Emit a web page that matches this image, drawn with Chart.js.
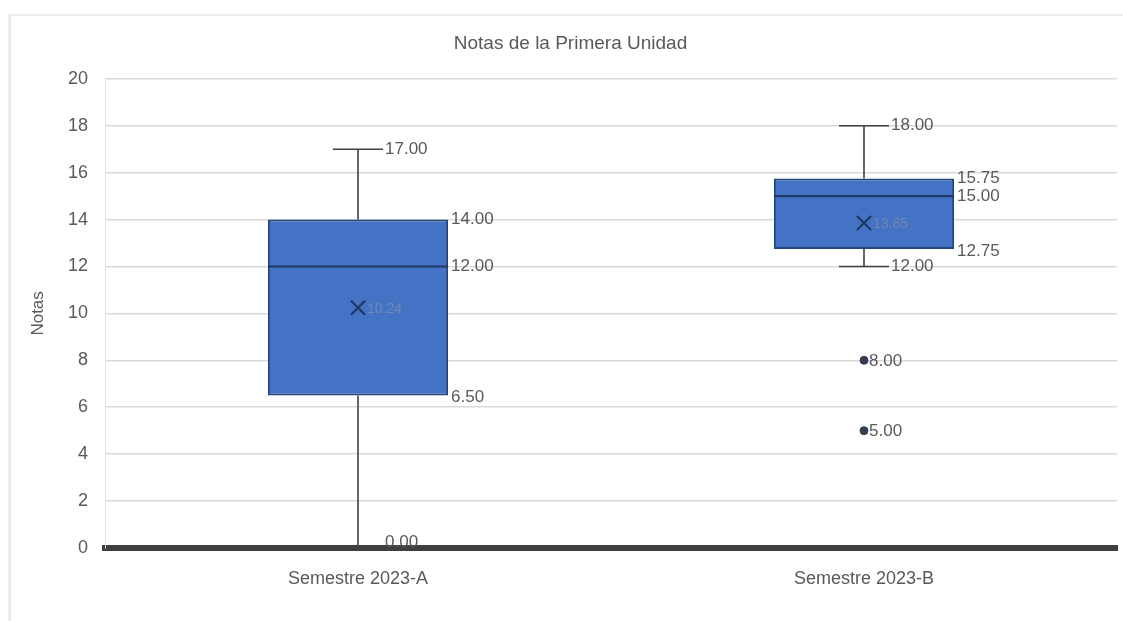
<!DOCTYPE html>
<html lang="es">
<head>
<meta charset="utf-8">
<title>Notas de la Primera Unidad</title>
<script src="https://cdn.jsdelivr.net/npm/chart.js@4.4.1/dist/chart.umd.min.js"></script>
<style>
    html, body { margin: 0; padding: 0; background: #fff; }
    #frame {
        position: absolute; left: 8px; top: 14px; width: 1115px; height: 607px;
        border-left: 3px solid #ececec; border-top: 2px solid #ececec;
    }
    #wrap { position: absolute; left: 0; top: 0; width: 1123px; height: 621px; }
</style>
</head>
<body>
<div id="frame"></div>
<div id="wrap"><canvas id="boxChart" width="1123" height="621"></canvas></div>
<script>
// Resumen de cinco números por semestre
const categories = ['Semestre 2023-A', 'Semestre 2023-B'];
const minimos  = [0, 12];
const q1       = [6.5, 12.75];
const medianas = [12, 15];
const q3       = [14, 15.75];
const maximos  = [17, 18];
const medias   = [10.24, 13.85];
const atipicos = [[], [8, 5]];
const yTicks   = [0, 2, 4, 6, 8, 10, 12, 14, 16, 18, 20];

const FONT = "'Liberation Sans', Arial, sans-serif";
const TEXT = '#595959';

// puntos atípicos como dataset de dispersión sobre el eje de categorías
const outlierPoints = [];
atipicos.forEach((vals, i) => {
    vals.forEach(v => outlierPoints.push({ x: categories[i], y: v }));
});

const fmt = v => v.toFixed(2);

// bigotes, mediana, media y etiquetas de cada caja
const boxExtras = {
    id: 'boxExtras',
    afterDatasetsDraw(chart) {
        const ctx = chart.ctx;
        const y = chart.scales.y;
        const bars = chart.getDatasetMeta(0).data;
        const cap = 25;

        ctx.save();
        ctx.font = '17px ' + FONT;
        ctx.textBaseline = 'middle';
        ctx.textAlign = 'left';

        bars.forEach((bar, i) => {
            const cx = bar.x;
            const left = cx - bar.width / 2;
            const right = cx + bar.width / 2;
            const yMin = y.getPixelForValue(minimos[i]);
            const yMax = y.getPixelForValue(maximos[i]);
            const yQ1 = y.getPixelForValue(q1[i]);
            const yQ3 = y.getPixelForValue(q3[i]);
            const yMed = y.getPixelForValue(medianas[i]);
            const yMean = y.getPixelForValue(medias[i]);

            // bigotes
            ctx.strokeStyle = '#404040';
            ctx.lineWidth = 1.6;
            ctx.beginPath();
            ctx.moveTo(cx, yQ3); ctx.lineTo(cx, yMax);
            ctx.moveTo(cx - cap, yMax); ctx.lineTo(cx + cap, yMax);
            ctx.moveTo(cx, yQ1); ctx.lineTo(cx, yMin);
            ctx.moveTo(cx - cap, yMin); ctx.lineTo(cx + cap, yMin);
            ctx.stroke();

            // mediana
            ctx.strokeStyle = '#1F3864';
            ctx.lineWidth = 2.2;
            ctx.beginPath();
            ctx.moveTo(left, yMed); ctx.lineTo(right, yMed);
            ctx.stroke();

            // media (X)
            const s = 7;
            ctx.strokeStyle = '#1F3864';
            ctx.lineWidth = 2.2;
            ctx.beginPath();
            ctx.moveTo(cx - s, yMean - s); ctx.lineTo(cx + s, yMean + s);
            ctx.moveTo(cx + s, yMean - s); ctx.lineTo(cx - s, yMean + s);
            ctx.stroke();

            ctx.fillStyle = 'rgba(120,140,175,0.85)';
            ctx.font = '14px ' + FONT;
            ctx.fillText(fmt(medias[i]), cx + 9, yMean + 1);
            ctx.font = '17px ' + FONT;

            // etiquetas de los valores
            ctx.fillStyle = TEXT;
            ctx.fillText(fmt(q3[i]), right + 3, yQ3);
            ctx.fillText(fmt(medianas[i]), right + 3, yMed);
            ctx.fillText(fmt(q1[i]), right + 3, yQ1 + 2);
            ctx.fillText(fmt(maximos[i]), cx + cap + 2, yMax);
            ctx.fillText(fmt(minimos[i]), cx + cap + 2, minimos[i] === 0 ? yMin - 6 : yMin);

            // valores atípicos
            atipicos[i].forEach(v => {
                ctx.fillText(fmt(v), cx + 5, y.getPixelForValue(v) + 1);
            });
        });
        ctx.restore();
    }
};

const chart = new Chart(document.getElementById('boxChart'), {
    data: {
        labels: categories,
        datasets: [{
            type: 'bar',
            data: q1.map((v, i) => [v, q3[i]]),
            backgroundColor: '#4472C4',
            borderColor: '#25457E',
            borderWidth: 2,
            borderSkipped: false,
            barPercentage: 0.356,
            categoryPercentage: 1
        }, {
            type: 'scatter',
            data: outlierPoints,
            pointRadius: 4,
            pointBackgroundColor: '#333F50',
            pointBorderColor: '#333F50'
        }]
    },
    options: {
        responsive: false,
        animation: false,
        layout: { padding: { left: 24, right: 6, top: 0, bottom: 0 } },
        plugins: {
            legend: { display: false },
            tooltip: { enabled: false },
            title: {
                display: true,
                text: 'Notas de la Primera Unidad',
                color: TEXT,
                font: { family: FONT, size: 19, weight: 'normal' },
                padding: { top: 32, bottom: 24 }
            }
        },
        scales: {
            x: {
                type: 'category',
                offset: true,
                grid: { display: false, drawTicks: false },
                border: { display: true, color: '#404040', width: 6 },
                ticks: { color: TEXT, font: { family: FONT, size: 18 }, padding: 20 },
                afterFit(scale) { scale.height = 73; }
            },
            y: {
                min: 0,
                max: 20,
                afterBuildTicks(scale) { scale.ticks = yTicks.map(v => ({ value: v })); },
                grid: { color: '#d9d9d9', lineWidth: 1.5, drawTicks: false },
                border: { display: true, color: '#e4e4e4', width: 1 },
                ticks: { color: TEXT, font: { family: FONT, size: 18 }, padding: 17 },
                title: {
                    display: true,
                    text: 'Notas',
                    color: TEXT,
                    font: { family: FONT, size: 17 },
                    padding: { top: 4, bottom: 0 }
                },
                afterFit(scale) { scale.width = 81; }
            }
        }
    },
    plugins: [boxExtras]
});
</script>
</body>
</html>
